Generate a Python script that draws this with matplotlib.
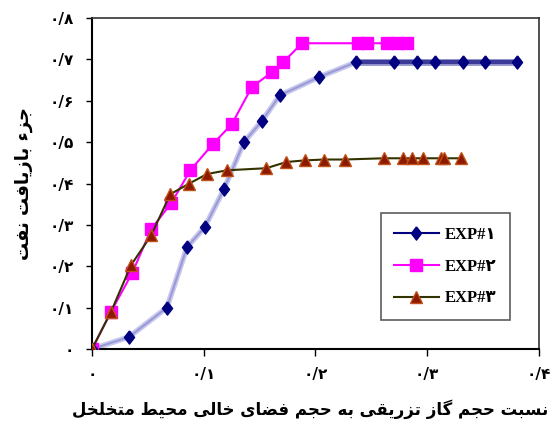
import matplotlib
matplotlib.use('Agg')
from matplotlib import pyplot as plt
from matplotlib.lines import Line2D

# EXP#1 - diamonds
exp1_x = [0.0, 0.033, 0.067, 0.085, 0.101, 0.118, 0.136, 0.152, 0.168, 0.203, 0.236,
          0.270, 0.291, 0.307, 0.332, 0.352, 0.380]
exp1_y = [0.0, 0.029, 0.100, 0.246, 0.295, 0.386, 0.500, 0.551, 0.613, 0.657, 0.693,
          0.693, 0.693, 0.693, 0.693, 0.693, 0.693]

# EXP#2 - squares
exp2_x = [0.0, 0.017, 0.036, 0.053, 0.071, 0.088, 0.108, 0.125, 0.143, 0.161, 0.171,
          0.188, 0.238, 0.246, 0.264, 0.273, 0.282]
exp2_y = [0.0, 0.090, 0.184, 0.290, 0.353, 0.432, 0.495, 0.543, 0.633, 0.669, 0.693,
          0.739, 0.739, 0.739, 0.739, 0.739, 0.739]

# EXP#3 - triangles
exp3_x = [0.0, 0.017, 0.035, 0.053, 0.070, 0.087, 0.103, 0.121, 0.156, 0.174, 0.191,
          0.208, 0.226, 0.261, 0.278, 0.286, 0.296, 0.312, 0.315, 0.330]
exp3_y = [0.0, 0.090, 0.203, 0.275, 0.374, 0.400, 0.423, 0.432, 0.437, 0.452, 0.456,
          0.458, 0.458, 0.461, 0.461, 0.461, 0.461, 0.461, 0.461, 0.461]

x_ticks = [0.0, 0.1, 0.2, 0.3, 0.4]
x_tick_labels = ['۰', '۰/۱', '۰/۲', '۰/۳', '۰/۴']
y_ticks = [0.0, 0.1, 0.2, 0.3, 0.4, 0.5, 0.6, 0.7, 0.8]
y_tick_labels = ['۰', '۰/۱', '۰/۲', '۰/۳', '۰/۴', '۰/۵', '۰/۶', '۰/۷', '۰/۸']
legend_labels = ['EXP#۱', 'EXP#۲', 'EXP#۳']
x_label = 'نسبت حجم گاز تزریقی به حجم فضای خالی محیط متخلخل'
y_label = 'جزء بازیافت نفت'


#  contextual forms: isolated, final, initial, medial
FORMS = {
    'ء': ('\uFE80', None, None, None),
    'ا': ('\uFE8D', '\uFE8E', None, None),
    'ب': ('\uFE8F', '\uFE90', '\uFE91', '\uFE92'),
    'ت': ('\uFE95', '\uFE96', '\uFE97', '\uFE98'),
    'ج': ('\uFE9D', '\uFE9E', '\uFE9F', '\uFEA0'),
    'ح': ('\uFEA1', '\uFEA2', '\uFEA3', '\uFEA4'),
    'خ': ('\uFEA5', '\uFEA6', '\uFEA7', '\uFEA8'),
    'ر': ('\uFEAD', '\uFEAE', None, None),
    'ز': ('\uFEAF', '\uFEB0', None, None),
    'س': ('\uFEB1', '\uFEB2', '\uFEB3', '\uFEB4'),
    'ض': ('\uFEBD', '\uFEBE', '\uFEBF', '\uFEC0'),
    'ط': ('\uFEC1', '\uFEC2', '\uFEC3', '\uFEC4'),
    'ف': ('\uFED1', '\uFED2', '\uFED3', '\uFED4'),
    'ق': ('\uFED5', '\uFED6', '\uFED7', '\uFED8'),
    'ل': ('\uFEDD', '\uFEDE', '\uFEDF', '\uFEE0'),
    'م': ('\uFEE1', '\uFEE2', '\uFEE3', '\uFEE4'),
    'ن': ('\uFEE5', '\uFEE6', '\uFEE7', '\uFEE8'),
    'ه': ('\uFEE9', '\uFEEA', '\uFEEB', '\uFEEC'),
    'ی': ('\uFBFC', '\uFBFD', '\uFBFE', '\uFBFF'),
    'گ': ('\uFB92', '\uFB93', '\uFB94', '\uFB95'),
}


def shape(text):
    #  join the letters and put them in right-to-left display order
    out = []
    for i, ch in enumerate(text):
        if ch not in FORMS:
            out.append(ch)
            continue
        iso, fin, ini, med = FORMS[ch]
        prev = text[i - 1] if i > 0 else ''
        nxt = text[i + 1] if i + 1 < len(text) else ''
        join_prev = prev in FORMS and FORMS[prev][2] is not None and fin is not None
        join_next = nxt in FORMS and FORMS[nxt][1] is not None and ini is not None
        if join_prev and join_next:
            out.append(med)
        elif join_prev:
            out.append(fin)
        elif join_next:
            out.append(ini)
        else:
            out.append(iso)
    return ''.join(reversed(out))


#  a diamond a bit taller than wide
diamond = [(0, 1), (0.77, 0), (0, -1), (-0.77, 0), (0, 1)]

fig = plt.figure(figsize=(5.52, 4.36), dpi=100)
ax = fig.add_axes([0.1667, 0.1995, 0.8097, 0.7592])

# EXP#1: pale rising part, darker plateau
k = exp1_y.index(max(exp1_y))
ax.plot(exp1_x[:k + 1], exp1_y[:k + 1], color='#c8c8ee', lw=4, zorder=2)
ax.plot(exp1_x[:k + 1], exp1_y[:k + 1], color='#9a9ad6', lw=1.5, zorder=2)
ax.plot(exp1_x[k:], exp1_y[k:], color='#9a9ad0', lw=5, zorder=2)
ax.plot(exp1_x[k:], exp1_y[k:], color='#3c3c98', lw=3, zorder=2)
ax.plot(exp1_x, exp1_y, ls='none', marker=diamond, ms=9.5, color='#000080', zorder=4)

ax.plot(exp2_x, exp2_y, color='#ff00ff', lw=1.5, marker='s', ms=8.5,
        mfc='#ff00ff', mec='#ff00ff', zorder=3)

ax.plot(exp3_x, exp3_y, color='#333300', lw=1.5, marker='^', ms=9,
        mfc='#8b1a00', mec='#c05018', mew=1.0, zorder=5)

ax.set_xlim(0, 0.4)
ax.set_ylim(0, 0.8)
ax.set_xticks(x_ticks)
ax.set_xticklabels(x_tick_labels, fontsize=11, fontweight='bold', family='DejaVu Sans')
ax.set_yticks(y_ticks)
ax.set_yticklabels(y_tick_labels, fontsize=11, fontweight='bold', family='DejaVu Sans')
ax.tick_params(axis='x', direction='out', length=5, width=1, pad=8)
ax.tick_params(axis='y', direction='out', length=4, width=1, pad=9)
for side in ['left', 'bottom']:
    ax.spines[side].set_linewidth(1.5)
for side in ['top', 'right']:
    ax.spines[side].set_linewidth(1.2)
    ax.spines[side].set_color('#333333')

fig.text(310 / 552, 1 - 409 / 436, shape(x_label), fontsize=12, fontweight='bold',
         family='DejaVu Sans', ha='center', va='center')
ax.set_ylabel(shape(y_label), fontsize=13, fontweight='bold', family='DejaVu Sans', labelpad=12)

handles = [
    Line2D([], [], color='#000080', lw=1.5, marker=diamond, ms=9.5),
    Line2D([], [], color='#ff00ff', lw=1.5, marker='s', ms=8.5),
    Line2D([], [], color='#333300', lw=1.5, marker='^', ms=9, mfc='#8b1a00', mec='#c05018'),
]
leg = ax.legend(handles, legend_labels, loc='upper left', bbox_to_anchor=(0.627, 0.435),
                frameon=True, fancybox=False, edgecolor='#333333', borderpad=0.8,
                labelspacing=0.95, handlelength=2.7, handletextpad=0.35,
                prop={'family': ['Liberation Serif', 'DejaVu Sans'], 'weight': 'bold', 'size': 12})
leg.get_frame().set_linewidth(1.2)

plt.savefig('out.png', dpi=100)
